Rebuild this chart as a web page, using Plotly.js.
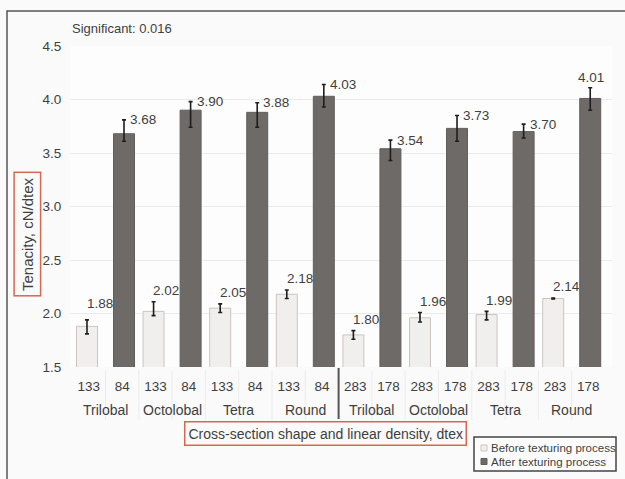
<!DOCTYPE html>
<html>
<head>
<meta charset="utf-8">
<script src="https://cdn.plot.ly/plotly-3.0.1.min.js"></script>
<style>
  html, body { margin: 0; padding: 0; background: #fafafa; }
  #chart { width: 625px; height: 479px; }
</style>
</head>
<body>
<div id="chart"></div>
<script>
// Cross-section shapes (two yarn groups) and their linear densities, dtex
const shapeNames = ['Trilobal', 'Octolobal', 'Tetra', 'Round', 'Trilobal', 'Octolobal', 'Tetra', 'Round'];
const densityBefore = ['133', '133', '133', '133', '283', '283', '283', '283'];
const densityAfter = ['84', '84', '84', '84', '178', '178', '178', '178'];

// Tenacity, cN/dtex, with error bar extents
const tenacityBefore = [1.88, 2.02, 2.05, 2.18, 1.80, 1.96, 1.99, 2.14];
const errBeforePlus = [0.06, 0.09, 0.04, 0.04, 0.04, 0.05, 0.03, 0.005];
const errBeforeMinus = [0.07, 0.04, 0.04, 0.04, 0.04, 0.04, 0.05, 0.005];
const tenacityAfter = [3.68, 3.90, 3.88, 4.03, 3.54, 3.73, 3.70, 4.01];
const errAfterPlus = [0.13, 0.08, 0.09, 0.11, 0.08, 0.12, 0.07, 0.10];
const errAfterMinus = [0.07, 0.16, 0.14, 0.10, 0.11, 0.12, 0.06, 0.11];

const seriesNames = ['Before texturing process', 'After texturing process'];
const significance = 'Significant: 0.016';

const FONT = 'Liberation Sans, Arial, sans-serif';
const TXT = '#3f3f3f';
const LIGHT = '#f1efee', LIGHT_EDGE = '#cdc3c0';
const DARK = '#6e6a68', DARK_EDGE = '#625e5c';

// one slot per bar, unique category keys
const catBefore = shapeNames.map((s, i) => s + ' ' + densityBefore[i]);
const catAfter = shapeNames.map((s, i) => s + ' ' + densityAfter[i]);
const categories = [], tickText = [];
shapeNames.forEach((s, i) => {
  categories.push(catBefore[i], catAfter[i]);
  tickText.push(densityBefore[i], densityAfter[i]);
});

const BAR_W = 0.63;
const errStyle = { color: '#1e1e1e', thickness: 1.6, width: 2 };

const traces = [
  {
    type: 'bar', name: seriesNames[0], x: catBefore, y: tenacityBefore,
    width: BAR_W, offset: -BAR_W / 2 - 0.056,
    marker: { color: LIGHT, line: { color: LIGHT_EDGE, width: 1 } },
    error_y: Object.assign({ type: 'data', symmetric: false, array: errBeforePlus, arrayminus: errBeforeMinus }, errStyle),
    showlegend: false, hoverinfo: 'skip'
  },
  {
    type: 'bar', name: seriesNames[1], x: catAfter, y: tenacityAfter,
    width: BAR_W, offset: -BAR_W / 2 + 0.056,
    marker: { color: DARK, line: { color: DARK_EDGE, width: 1 } },
    error_y: Object.assign({ type: 'data', symmetric: false, array: errAfterPlus, arrayminus: errAfterMinus }, errStyle),
    showlegend: false, hoverinfo: 'skip'
  }
];

const annotations = [];
const shapes = [];

// value labels
tenacityBefore.forEach((v, i) => {
  annotations.push({
    x: catBefore[i], y: v + errBeforePlus[i], xref: 'x', yref: 'y',
    text: v.toFixed(2), showarrow: false, yanchor: 'middle', xanchor: 'center',
    xshift: 11, yshift: i === 0 ? 16 : 11, font: { family: FONT, size: 13.5, color: TXT }
  });
});
tenacityAfter.forEach((v, i) => {
  const last = i === tenacityAfter.length - 1;
  annotations.push({
    x: catAfter[i], y: v + errAfterPlus[i], xref: 'x', yref: 'y',
    text: v.toFixed(2), showarrow: false,
    xanchor: last ? 'center' : 'left', yanchor: 'middle',
    xshift: last ? 3 : 6, yshift: last ? 10 : 0,
    font: { family: FONT, size: 13.5, color: TXT }
  });
});

// shape names under each pair of density labels
shapeNames.forEach((s, i) => {
  annotations.push({
    x: 2 * i + 0.5, y: -0.134, xref: 'x', yref: 'paper',
    text: s, showarrow: false, xanchor: 'center', yanchor: 'middle',
    font: { family: FONT, size: 14, color: TXT }
  });
});

// cell separators under the plot; the heavier one splits the two yarn groups
for (let k = 0; k < categories.length - 1; k++) {
  const mid = k === shapeNames.length - 1;
  shapes.push({
    type: 'line', xref: 'x', yref: 'paper', x0: k + 0.5, x1: k + 0.5,
    y0: mid ? -0.003 : -0.01, y1: mid ? -0.162 : -0.165,
    line: { color: mid ? '#555' : '#ececec', width: mid ? 2 : 1 }
  });
}

// headline note
annotations.push({
  x: 0, y: 1.053, xref: 'paper', yref: 'paper', xanchor: 'left', yanchor: 'middle',
  text: significance, showarrow: false, font: { family: FONT, size: 13, color: TXT }
});

// boxed axis titles
annotations.push({
  x: -0.0785, y: 0.414, xref: 'paper', yref: 'paper', xanchor: 'center', yanchor: 'middle',
  text: 'Tenacity, cN/dtex', textangle: -90, showarrow: false,
  bordercolor: '#d8674f', borderwidth: 1.5, borderpad: 4,
  font: { family: FONT, size: 15, color: TXT }
});
annotations.push({
  x: 0.4705, y: -0.2087, xref: 'paper', yref: 'paper', xanchor: 'center', yanchor: 'middle',
  text: 'Cross-section shape and linear density, dtex', showarrow: false,
  bordercolor: '#d8674f', borderwidth: 1.5, borderpad: 3,
  font: { family: FONT, size: 14, color: TXT }
});

// legend box
const px = (v) => (v - 70) / 542;   // page x -> paper x
const py = (v) => (367 - v) / 321;  // page y -> paper y
shapes.push({
  type: 'rect', xref: 'paper', yref: 'paper',
  x0: px(474), x1: px(616), y0: py(471), y1: py(437),
  line: { color: '#444', width: 1.5 }, fillcolor: '#fcfcfc'
});
const legendColors = [[LIGHT, LIGHT_EDGE], [DARK, DARK_EDGE]];
seriesNames.forEach((name, i) => {
  const cy = 448 + i * 13.5;
  shapes.push({
    type: 'rect', xref: 'paper', yref: 'paper',
    x0: px(481), x1: px(487), y0: py(cy + 3), y1: py(cy - 3),
    fillcolor: legendColors[i][0], line: { color: legendColors[i][1], width: 1 }
  });
  annotations.push({
    x: px(489), y: py(cy), xref: 'paper', yref: 'paper', xanchor: 'left', yanchor: 'middle',
    text: name, showarrow: false, font: { family: FONT, size: 11.5, color: TXT }
  });
});

// outer frame
shapes.push({
  type: 'rect', xref: 'paper', yref: 'paper',
  x0: px(7), x1: 1.2, y0: -0.6, y1: py(11),
  line: { color: '#555', width: 1.5 }, layer: 'below'
});

const layout = {
  width: 625, height: 479,
  margin: { l: 70, r: 13, t: 46, b: 112 },
  paper_bgcolor: '#fafafa', plot_bgcolor: '#fdfdfd',
  barmode: 'overlay',
  font: { family: FONT, color: TXT },
  xaxis: {
    type: 'category', categoryorder: 'array', categoryarray: categories,
    tickmode: 'array', tickvals: categories, ticktext: tickText,
    range: [-0.566, 15.71], showgrid: false, zeroline: false, showline: false,
    ticks: 'outside', ticklen: 7, tickcolor: 'rgba(0,0,0,0)',
    tickfont: { family: FONT, size: 13.5, color: TXT }, fixedrange: true
  },
  yaxis: {
    range: [1.5, 4.5], dtick: 0.5, tickformat: '.1f',
    showgrid: true, gridcolor: '#ebebeb', gridwidth: 1,
    zeroline: false, showline: false,
    ticks: 'outside', ticklen: 5, tickcolor: 'rgba(0,0,0,0)',
    tickfont: { family: FONT, size: 13.5, color: TXT }, fixedrange: true
  },
  showlegend: false,
  annotations: annotations,
  shapes: shapes
};

Plotly.newPlot('chart', traces, layout, { displayModeBar: false, staticPlot: true });
</script>
</body>
</html>
